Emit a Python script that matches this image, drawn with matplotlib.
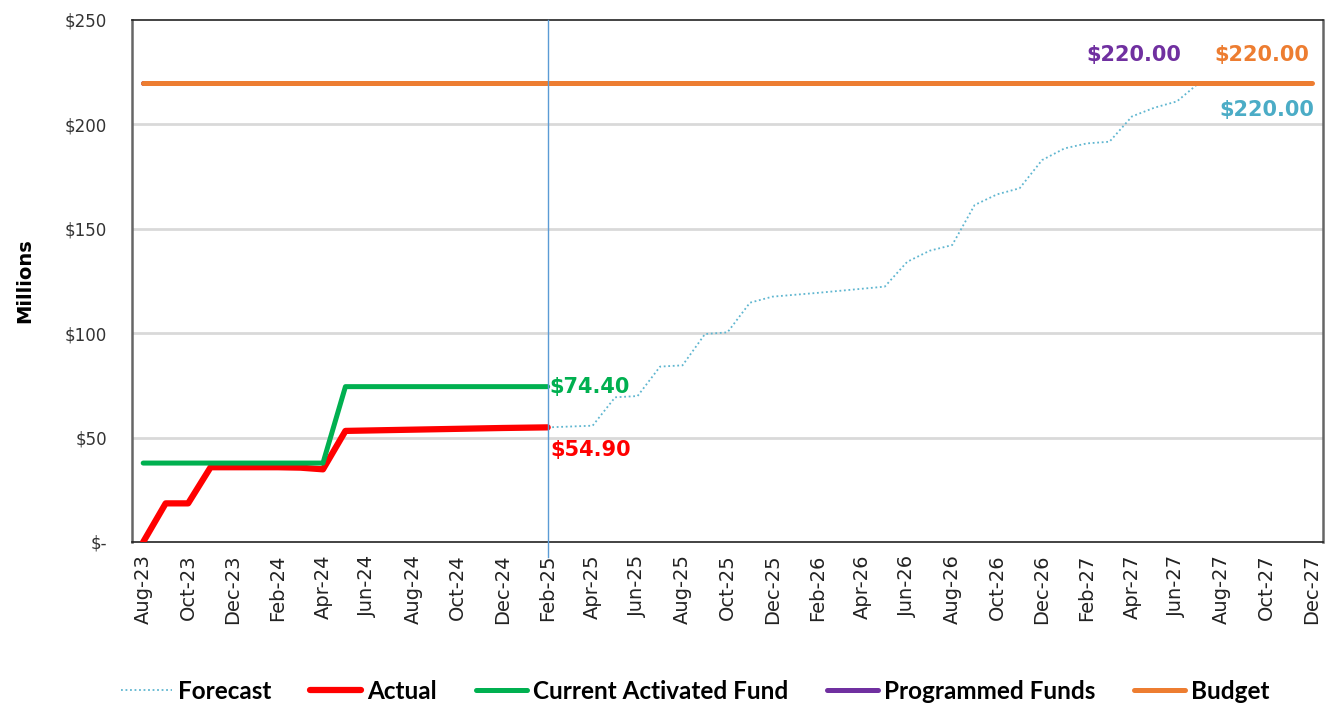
import matplotlib
matplotlib.use("Agg")
import matplotlib.pyplot as plt
import pandas as pd

# month categories Aug-23 .. Dec-27
months = [d.strftime("%b-%y") for d in pd.date_range("2023-08-01", "2027-12-01", freq="MS")]
current_month = "Feb-25"

actual = [0, 18.5, 18.5, 35.8, 35.8, 35.8, 35.8, 35.6, 34.8, 53.2,
          53.4, 53.6, 53.8, 54.0, 54.2, 54.4, 54.6, 54.75, 54.9]
activated = [37.8] * 9 + [74.4] * 10
forecast = [54.9, 55.3, 55.7, 69.3, 69.9, 84.0, 84.6, 99.6, 100.4, 114.6,
            117.5, 118.4, 119.3, 120.3, 121.3, 122.3, 134.2, 139.5, 142.2, 161.4,
            166.5, 169.4, 182.9, 188.5, 190.9, 191.7, 203.8, 208.0, 211.0, 220.0,
            220.0, 220.0, 220.0, 220.0, 220.0]
programmed = [220.0] * 45
budget = [220.0] * 53

y_ticks = [0, 50, 100, 150, 200, 250]
y_labels = ["$-", "$50", "$100", "$150", "$200", "$250"]

c_fore = "#4BACC6"
c_act = "#FF0000"
c_green = "#00B050"
c_purple = "#7030A0"
c_orange = "#ED7D31"

i_now = months.index(current_month)
x_act = list(range(len(actual)))
x_fore = list(range(i_now, i_now + len(forecast)))

fig = plt.figure(figsize=(13.37, 7.06), dpi=100)
ax = fig.add_axes([0.0987, 0.2323, 0.8908, 0.7394])

for y in y_ticks[1:-1]:
    ax.axhline(y, color="#D9D9D9", lw=2, zorder=0)

ax.plot(x_fore, forecast, color="#5FB6D0", lw=1.3, linestyle=(0, (1, 1.5)), label="Forecast", zorder=2)
ax.plot(x_act, actual, color=c_act, lw=4.5, solid_capstyle="round", label="Actual", zorder=3)
ax.plot(range(len(activated)), activated, color=c_green, lw=3.6, solid_capstyle="round",
        label="Current Activated Fund", zorder=4)
ax.plot(range(len(programmed)), programmed, color=c_purple, lw=3.6, solid_capstyle="round",
        label="Programmed Funds", zorder=4)
ax.plot(range(len(budget)), budget, color=c_orange, lw=3.6, solid_capstyle="round",
        label="Budget", zorder=5)

# current month marker
ax.plot([i_now, i_now], [-7, 250], color="#5B9BD5", lw=1, clip_on=False, zorder=6)

lab = dict(family="DejaVu Sans", fontsize=15, fontweight="bold")
ax.annotate(f"${activated[-1]:.2f}", (i_now, activated[-1]), xytext=(1, 0),
            textcoords="offset points", ha="left", va="center", color=c_green, **lab)
ax.annotate(f"${actual[-1]:.2f}", (i_now, actual[-1]), xytext=(2, -16),
            textcoords="offset points", ha="left", va="center", color=c_act, **lab)
ax.annotate(f"${programmed[-1]:.2f}", (44.1, programmed[-1]), xytext=(0, 20),
            textcoords="offset points", ha="center", va="center", color=c_purple, **lab)
ax.annotate(f"${budget[-1]:.2f}", (49.8, budget[-1]), xytext=(0, 20),
            textcoords="offset points", ha="center", va="center", color=c_orange, **lab)
ax.annotate(f"${forecast[-1]:.2f}", (50.0, forecast[-1]), xytext=(0, -20),
            textcoords="offset points", ha="center", va="center", color=c_fore, **lab)

ax.set_xlim(-0.5, len(months) - 0.5)
ax.set_ylim(0, 250)
ax.set_yticks(y_ticks)
ax.set_yticklabels(y_labels, family="DejaVu Sans", fontsize=12, color="#333333")
ax.set_xticks(range(0, len(months), 2))
ax.set_xticklabels(months[::2], rotation=90, family="DejaVu Sans", fontsize=14, color="#222222")
ax.tick_params(axis="y", length=0, pad=18)
ax.tick_params(axis="x", length=0, pad=9)
for s in ax.spines.values():
    s.set_color("#222222")
    s.set_linewidth(1.2)
ax.spines["left"].set_color("#666666")
ax.spines["left"].set_linewidth(1.8)
ax.spines["right"].set_color("#666666")
ax.spines["right"].set_linewidth(1.8)

ax.set_ylabel("Millions", family="DejaVu Sans", fontsize=14, fontweight="bold", labelpad=22)

leg = fig.legend(loc="center", bbox_to_anchor=(0.52, 0.021), ncol=5, frameon=False,
                 prop=dict(family="Lato", size=17.5, weight="bold"), handlelength=2.1,
                 handletextpad=0.25, columnspacing=1.6)

fig.savefig("out.png", dpi=100)
